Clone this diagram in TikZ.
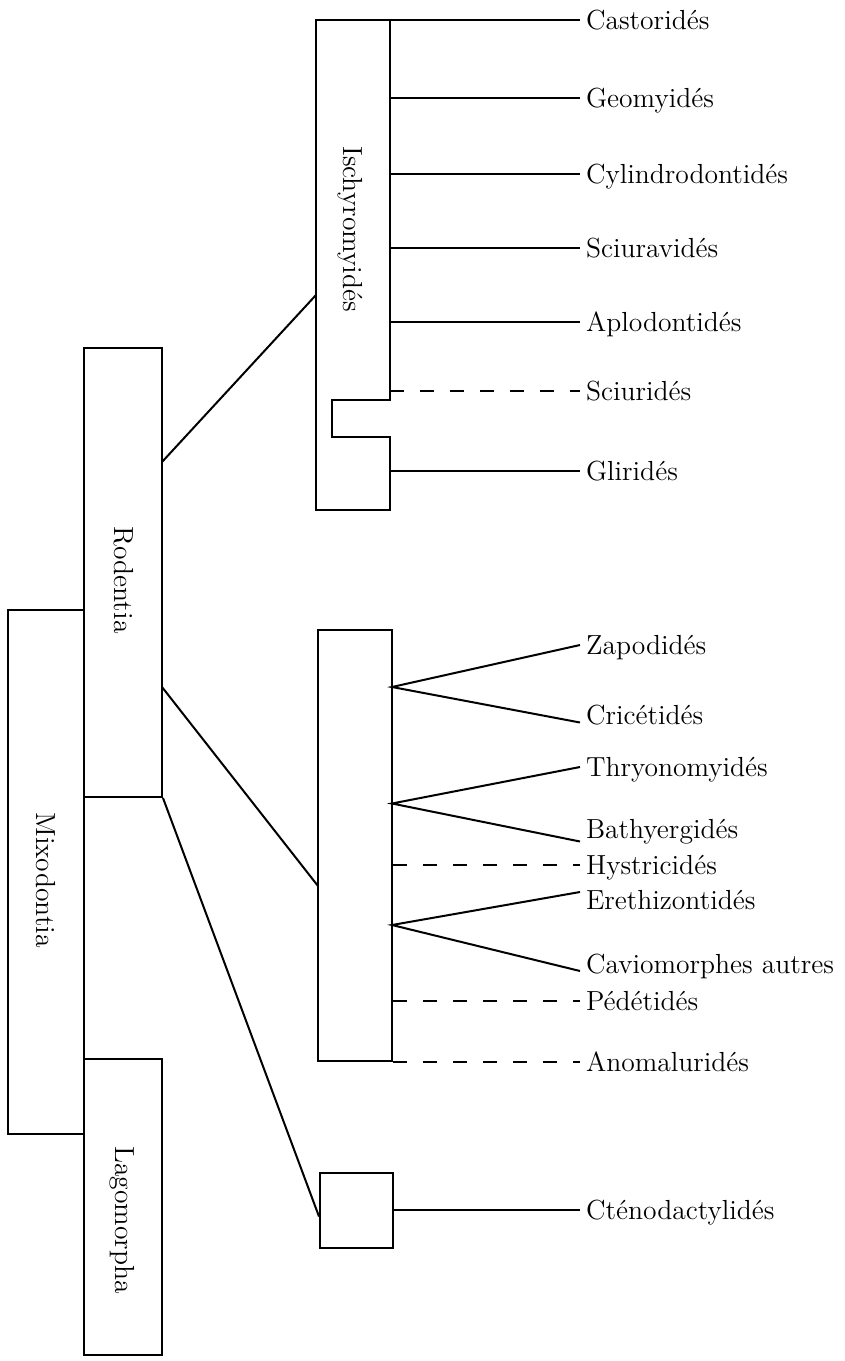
\documentclass[tikz,border=0pt]{standalone}
\usepackage{fontspec}
\begin{document}
\begin{tikzpicture}[x = 0.5pt, y = -0.5pt, line width = 1pt,
		taxon/.style = {draw, inner sep = 0pt},
		group/.style = {rotate = -90, inner sep = 0pt, font = \fontsize{13.8}{16}\selectfont},
		leaf/.style = {anchor = west, inner sep = 2.5pt, text height = 9.4pt, text depth = 0pt, font = \fontsize{13.8}{16}\selectfont},
		gap/.style = {dash pattern = on 7pt off 8pt}]
	\useasboundingbox (0, 0) rectangle (845, 1361);
	% orders
	\node (mix) at (45.75, 872) [taxon, minimum width = 38.25pt, minimum height = 262pt] {};
		\node (mixlab) at (46, 880) [group] {Mixodontia};
	\node (rod) at (123, 572.25) [taxon, minimum width = 39pt, minimum height = 224.75pt] {};
		\node (rodlab) at (124, 580) [group] {Rodentia};
	\node (lago) at (123, 1207) [taxon, minimum width = 39pt, minimum height = 148pt] {};
		\node (lagolab) at (122, 1220) [group] {Lagomorpha};
	% families groups
	\node (isch) at (353, 265) [inner sep = 0pt, outer sep = 0pt, minimum width = 37pt, minimum height = 245pt] {};
		\draw (isch.north west) -- (isch.north east) -- (390, 400) -- (332, 400) -- (332, 437) -- (390, 437) -- (isch.south east) -- (isch.south west) -- cycle;
		\node (ischlab) at (350, 229) [group] {Ischyromyidés};
	\node (myohys) at (355, 845.5) [taxon, minimum width = 37pt, minimum height = 215.5pt] {};
	\node (cteno) at (356.5, 1210.5) [taxon, minimum width = 36.5pt, minimum height = 37.5pt] {};
	% links from Rodentia
	\coordinate (rodA) at (162, 462);
	\coordinate (rodB) at (162, 687);
	\coordinate (ischA) at (316, 295);
	\coordinate (myohysA) at (318, 886);
		\draw (rodA) -- (ischA);
		\draw (rodB) -- (myohysA);
		\draw (rod.south east) -- ([yshift = -3pt]cteno.west);
	% families
	\node (cas) at (580, 20) [leaf] {Castoridés};
	\node (geo) at (580, 98) [leaf] {Geomyidés};
	\node (cyl) at (580, 174) [leaf] {Cylindrodontidés};
	\node (sciv) at (580, 248) [leaf] {Sciuravidés};
	\node (aplo) at (580, 322) [leaf] {Aplodontidés};
	\node (scir) at (580, 391) [leaf] {Sciuridés};
	\node (gli) at (580, 471) [leaf] {Gliridés};
		\foreach \n in {cas, geo, cyl, sciv, aplo, gli}
			\draw (isch.east |- \n.west) -- (\n.west);
		\draw[gap] (isch.east |- scir.west) -- (scir.west);
	\node (zap) at (580, 645) [leaf] {Zapodidés};
	\node (cric) at (580, 715) [leaf] {Cricétidés};
	\node (thry) at (580, 767) [leaf] {Thryonomyidés};
	\node (bath) at (580, 829) [leaf] {Bathyergidés};
	\node (hyst) at (580, 865) [leaf] {Hystricidés};
	\node (ereth) at (580, 900) [leaf] {Erethizontidés};
	\node (cav) at (580, 964) [leaf] {Caviomorphes autres};
	\node (pede) at (580, 1001) [leaf] {Pédétidés};
	\node (anom) at (580, 1062) [leaf] {Anomaluridés};
	\node (ctlab) at (580, 1210) [leaf] {Cténodactylidés};
	\coordinate (forkA) at (392, 687);
	\coordinate (forkB) at (392, 803.5);
	\coordinate (forkC) at (392, 925);
		\draw (zap.west) -- (forkA) -- ([yshift = -3.75pt]cric.west);
		\draw (thry.west) -- (forkB) -- ([yshift = -6.25pt]bath.west);
		\draw ([yshift = 4pt]ereth.west) -- (forkC) -- ([yshift = -3.5pt]cav.west);
		\foreach \n in {hyst, pede, anom}
			\draw[gap] (myohys.east |- \n.west) -- (\n.west);
		\draw (cteno.east |- ctlab.west) -- (ctlab.west);
\end{tikzpicture}
\end{document}
